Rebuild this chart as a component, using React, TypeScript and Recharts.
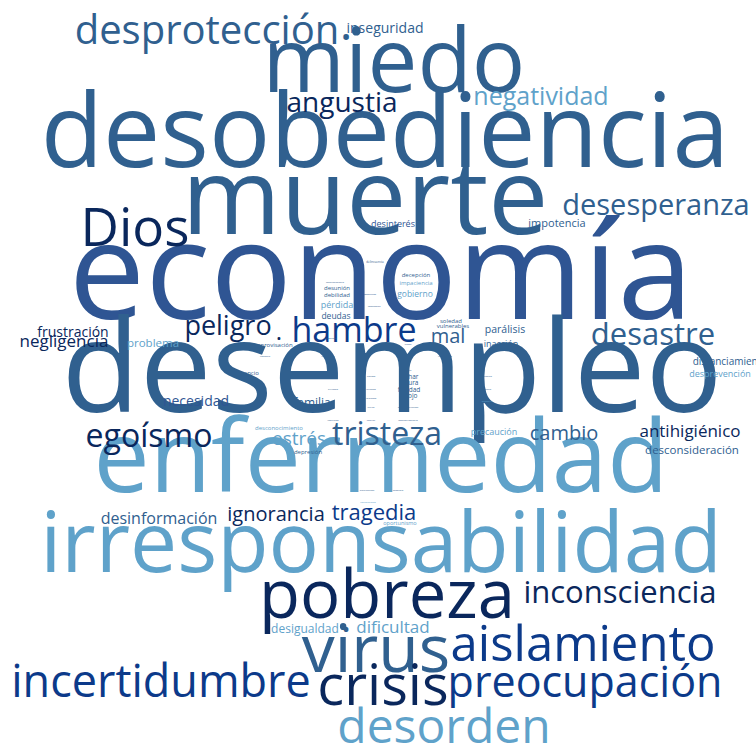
import { ScatterChart, Scatter, XAxis, YAxis } from "recharts";

// [word, x, baseline y, weight, tone]
type Row = [string, number, number, number, number];

const bigWords: Row[] = [
  ["economía", 381, 319, 136, 3],
  ["desempleo", 392, 412, 128, 2],
  ["muerte", 365, 234, 107, 2],
  ["desobediencia", 385, 167, 102, 2],
  ["enfermedad", 381, 492, 100, 4],
  ["miedo", 394, 92, 89, 2],
  ["irresponsabilidad", 381, 572, 84, 4],
  ["pobreza", 387, 618, 67, 0],
  ["virus", 376, 672, 66, 2],
  ["crisis", 383, 705, 56, 0],
  ["Dios", 135, 246, 53, 0],
  ["aislamiento", 583, 661, 49, 1],
  ["desorden", 444, 743, 48, 4],
  ["incertidumbre", 161, 697, 45, 1],
  ["preocupación", 585, 697, 43, 1],
  ["desprotección", 207, 44, 40, 2],
];

const midWords: Row[] = [
  ["hambre", 354, 342, 34, 1],
  ["egoísmo", 149, 447, 32, 0],
  ["tristeza", 387, 445, 32, 2],
  ["desastre", 653, 345, 31, 2],
  ["inconsciencia", 620, 603, 31, 0],
  ["desesperanza", 656, 215, 29, 2],
  ["angustia", 342, 112, 28, 0],
  ["peligro", 228, 335, 27, 0],
  ["negatividad", 541, 105, 25, 4],
  ["tragedia", 374, 520, 22, 1],
  ["mal", 448, 343, 20, 2],
  ["ignorancia", 276, 521, 20, 0],
  ["cambio", 564, 440, 20, 2],
  ["estrés", 299, 445, 19, 4],
  ["antihigiénico", 690, 437, 17, 0],
  ["negligencia", 64, 347, 17, 0],
  ["dificultad", 393, 633, 17, 4],
  ["desinformación", 159, 524, 16, 2],
];

const smallWords: Row[] = [
  ["inseguridad", 385, 33, 14, 2],
  ["necesidad", 196, 406, 14, 3],
  ["frustración", 73, 337, 14, 0],
  ["familia", 312, 407, 12, 2],
  ["desigualdad", 305, 633, 12, 4],
  ["desconsideración", 692, 454, 11.5, 2],
  ["problema", 153, 347, 11.5, 4],
  ["impotencia", 557, 227, 11, 2],
  ["parálisis", 505, 333, 10.5, 2],
  ["distanciamiento", 730, 365, 10, 2],
  ["desprevención", 720, 377, 9, 4],
  ["precaución", 494, 435, 9, 4],
  ["inacción", 501, 347, 9, 2],
  ["desinterés", 393, 227, 9, 3],
  ["pérdida", 337, 308, 9, 4],
  ["gobierno", 415, 297, 8.5, 4],
  ["deudas", 336, 319, 8.5, 2],
  ["luchar", 409, 379, 6.5, 2],
  ["locura", 409, 385, 6.5, 2],
  ["fealdad", 409, 392, 6.5, 2],
  ["enojo", 409, 398, 6.5, 2],
  ["cansancio", 245, 375, 6, 2],
  ["decepción", 416, 277, 6, 2],
  ["impaciencia", 416, 285, 6, 4],
  ["desunión", 337, 290, 6, 2],
  ["debilidad", 337, 297, 6, 2],
  ["soledad", 451, 323, 6, 2],
  ["vulnerables", 453, 328, 6, 2],
  ["improvisación", 273, 347, 6, 2],
  ["desconocimiento", 279, 430, 6, 4],
  ["depresión", 308, 454, 6, 2],
  ["oportunismo", 400, 525, 5.5, 4],
];

const tinyWords: Row[] = [
  ["delincuencia", 375, 263, 3, 2],
  ["mantenimiento", 335, 283, 2.5, 2],
  ["sospechas", 370, 295, 2.5, 2],
  ["tomadores", 374, 307, 2.5, 2],
  ["desamparo", 330, 339, 2.5, 2],
  ["temor", 408, 345, 2.5, 2],
  ["vagancia", 265, 357, 2.5, 2],
  ["apocalipsis", 328, 357, 2.5, 2],
  ["intolerancia", 445, 357, 2.5, 2],
  ["gente", 408, 371, 2.5, 2],
  ["destrucción", 302, 377, 2.5, 2],
  ["actitud", 333, 377, 2.5, 2],
  ["fracaso", 371, 377, 2.5, 2],
  ["orgullo", 447, 377, 2.5, 2],
  ["indiferencia", 485, 377, 2.5, 2],
  ["extremo", 333, 390, 2.5, 2],
  ["viviendo", 371, 390, 2.5, 2],
  ["culpa", 447, 390, 2.5, 2],
  ["arrogancia", 485, 390, 2.5, 2],
  ["fatalismo", 371, 399, 2.5, 2],
  ["pesadilla", 487, 402, 2.5, 4],
  ["crítica", 371, 408, 2.5, 2],
  ["desconcentración", 408, 408, 2.5, 2],
  ["resultado", 333, 421, 2.5, 2],
  ["control", 371, 421, 2.5, 2],
  ["comportamiento", 408, 421, 2.5, 2],
  ["planificación", 367, 491, 2.5, 2],
  ["desacato", 398, 491, 2.5, 2],
  ["conformismo", 368, 503, 2.5, 4],
];

const dots: Row[] = [
  [".", 346, 40, 48, 2],
  [".", 346, 632, 40, 2],
  [".", 279, 340, 24, 0],
];

const palette = ["#0a275c", "#0c3a8a", "#30608f", "#2f5593", "#5fa2ca"];

const data = [...bigWords, ...midWords, ...smallWords, ...tinyWords, ...dots].map(
  ([word, x, y, weight, tone]) => ({ word, x, y, weight, tone })
);

const WordShape = (props: any) => {
  const { cx, cy, payload } = props;
  return (
    <text
      x={cx}
      y={cy}
      textAnchor="middle"
      fontSize={payload.weight}
      fill={palette[payload.tone]}
      fontFamily="'Open Sans', sans-serif"
    >
      {payload.word}
    </text>
  );
};

export default function App() {
  return (
    <div style={{ position: "fixed", left: 0, top: 0, background: "#fff" }}>
      <ScatterChart width={756} height={745} margin={{ top: 0, right: 0, bottom: 0, left: 0 }}>
        <XAxis dataKey="x" type="number" domain={[0, 756]} hide />
        <YAxis dataKey="y" type="number" domain={[0, 745]} reversed hide />
        <Scatter data={data} shape={WordShape} isAnimationActive={false} />
      </ScatterChart>
    </div>
  );
}
